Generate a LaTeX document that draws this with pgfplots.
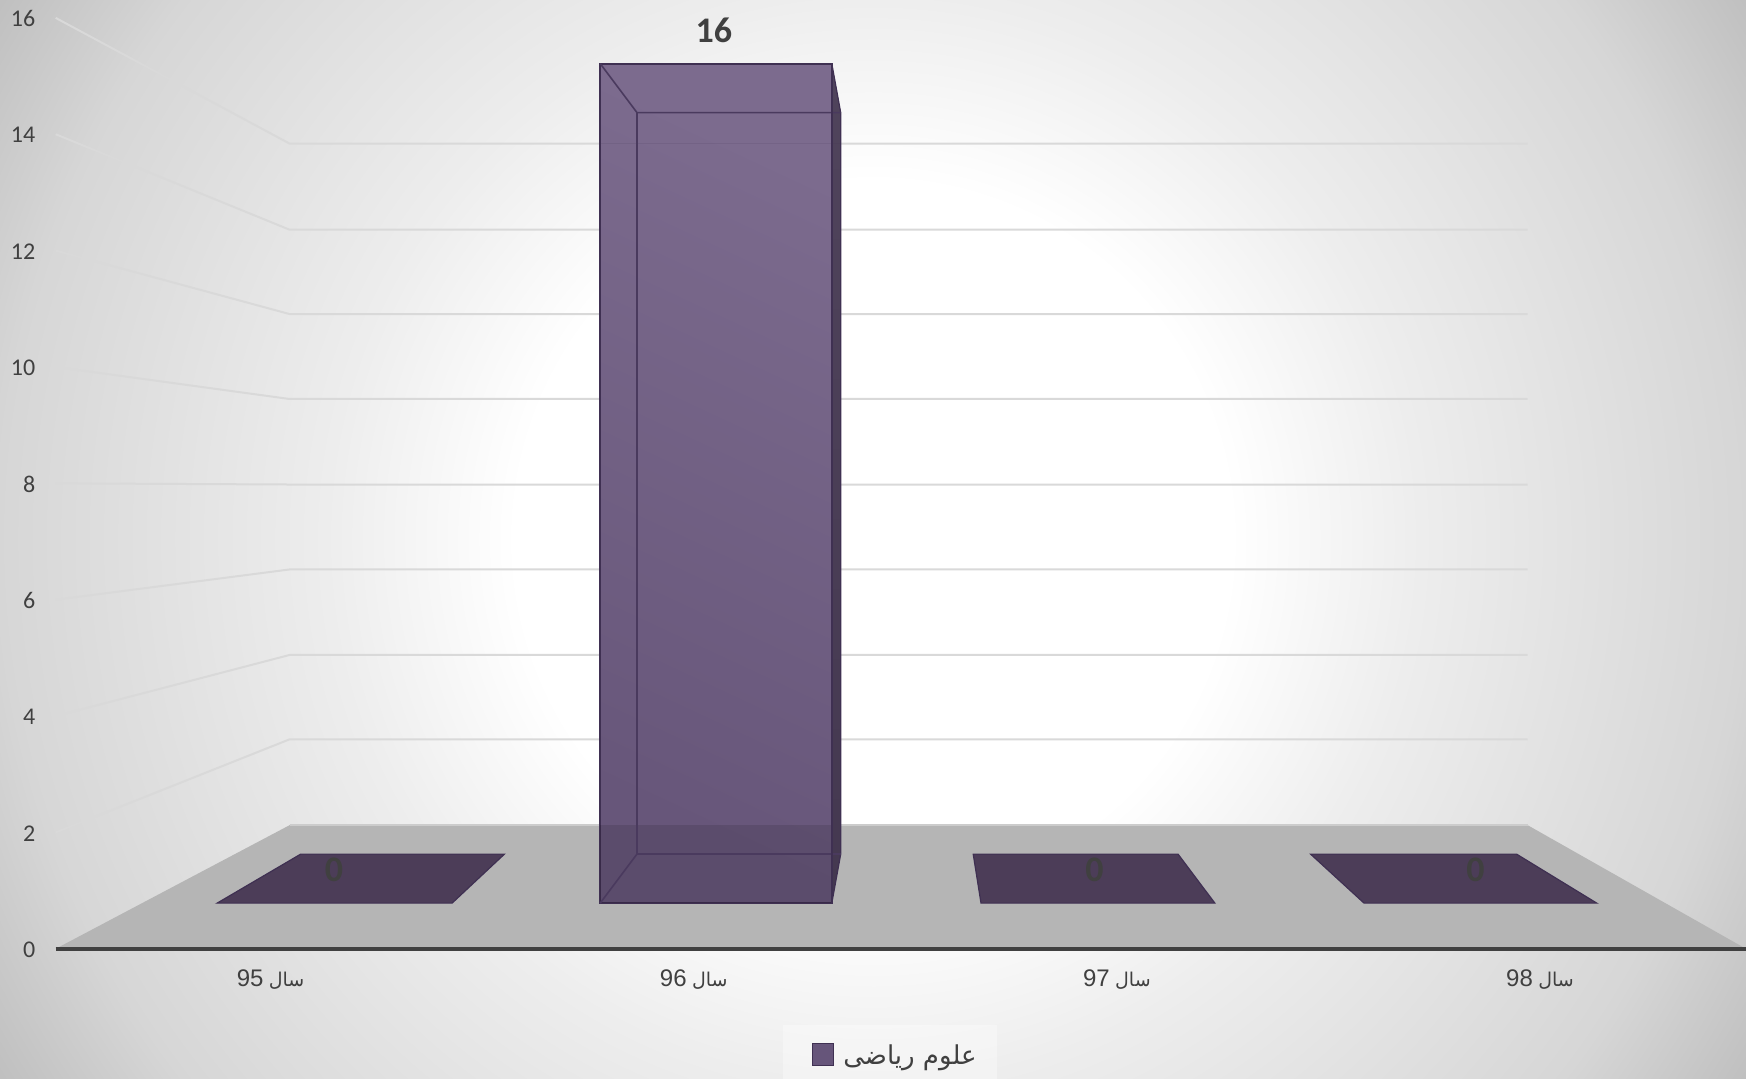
\documentclass[border=0pt]{standalone}
\usepackage{pgfplots}
\pgfplotsset{compat=1.18}
\usepackage{fontspec}
\setmainfont{Carlito}
\newfontfamily\arabicfont[Script=Arabic]{DejaVu Sans}
\newfontfamily\libsans{Liberation Sans}
\TeXXeTstate=1
\definecolor{gridc}{HTML}{D9D9D9}
\definecolor{floorc}{HTML}{B5B5B5}
\definecolor{edgec}{HTML}{3F3052}
\definecolor{inedge}{HTML}{4A3A5E}
\definecolor{panelc}{HTML}{4C3D58}
\definecolor{labc}{HTML}{404040}
\definecolor{sidetop}{HTML}{50445C}
\definecolor{sidebot}{HTML}{443850}
\definecolor{barhi}{HTML}{7C6B8E}
\definecolor{barlo}{HTML}{67567A}
\definecolor{barleg}{HTML}{66557A}
\pgfdeclareradialshading{bgshade}{\pgfpoint{0bp}{0bp}}{color(0bp)=(white); color(8.5bp)=(white); color(13bp)=(white!93!black); color(20.8bp)=(white!84!black); color(24.5bp)=(white!75!black); color(71bp)=(white!75!black)}
\newcommand\xl[1]{{\fontsize{12}{14}\selectfont\beginR{\arabicfont\fontsize{9.5}{14}\selectfont سال} \beginL{\libsans #1}\endL\endR}}
\pgfplotstableread{
x v ly
300 0 1.36
641 16 15.79
983 0 1.36
1325 0 1.36
}\labels
\begin{document}
\begin{tikzpicture}[x=1pt,y=1pt]
\useasboundingbox (0,0) rectangle (873,539);
\begin{scope}
\clip (0,0) rectangle (873,539);
\shade[shading=bgshade] (-88.5,-255.5) rectangle (961.5,794.5);
\end{scope}
\begin{axis}[
  at={(27.84pt,64.6pt)}, anchor=south west,
  scale only axis, width=845.15pt, height=465.45pt,
  xmin=50, xmax=1568, ymin=0, ymax=16,
  clip=false,
  axis line style={draw=none},
  major tick length=0pt,
  xtick={243,623,1003,1383},
  xticklabels={\xl{95},\xl{96},\xl{97},\xl{98}},
  ytick={0,2,...,16},
  /pgf/number format/assume math mode=true,
  yticklabel style={font=\fontsize{12}{13}\selectfont, text=labc, anchor=east, xshift=-6.7pt, yshift=-0.4pt},
  xticklabel style={text=labc, anchor=center, yshift=-15.2pt},
  legend style={at={(0.430,-0.0813)}, anchor=north west, draw=none, fill=white, fill opacity=0.35, text opacity=1, legend cell align=left, font=\fontsize{13}{15}\selectfont, inner xsep=8pt, inner ysep=8pt},
]
% back wall and side wall grid lines
\addplot[forget plot, gridc, line width=1pt] coordinates {(50,2) (260,3.60) (1372,3.60)};
\addplot[forget plot, gridc, line width=1pt] coordinates {(50,4) (260,5.05) (1372,5.05)};
\addplot[forget plot, gridc, line width=1pt] coordinates {(50,6) (260,6.52) (1372,6.52)};
\addplot[forget plot, gridc, line width=1pt] coordinates {(50,8) (260,7.98) (1372,7.98)};
\addplot[forget plot, gridc, line width=1pt] coordinates {(50,10) (260,9.45) (1372,9.45)};
\addplot[forget plot, gridc, line width=1pt] coordinates {(50,12) (260,10.91) (1372,10.91)};
\addplot[forget plot, gridc, line width=1pt] coordinates {(50,14) (260,12.36) (1372,12.36)};
\addplot[forget plot, gridc, line width=1pt] coordinates {(50,16) (260,13.84) (1372,13.84)};
% floor
\addplot[forget plot, fill=floorc, draw=none] coordinates {(50,0) (260,2.124) (1372,2.124) (1568,0)} --cycle;
\addplot[forget plot, white!80!black, line width=0.8pt] coordinates {(260,2.124) (1372,2.124)};
\addplot[forget plot, labc, line width=2pt] coordinates {(50,-0.01) (1568,-0.01)};
% zero-height bars
\addplot[forget plot, fill=panelc, draw=edgec, line width=0.6pt] coordinates {(195,0.785) (406,0.785) (453,1.627) (270,1.627)} --cycle;
\addplot[forget plot, fill=panelc, draw=edgec, line width=0.6pt] coordinates {(881,0.785) (1091,0.785) (1058,1.627) (874,1.627)} --cycle;
\addplot[forget plot, fill=panelc, draw=edgec, line width=0.6pt] coordinates {(1225,0.785) (1434,0.785) (1362,1.627) (1177,1.627)} --cycle;
% tall bar: right side
\addplot[forget plot, draw=edgec, line width=0.6pt, top color=sidetop, bottom color=sidebot] coordinates {(747,15.215) (755,14.373) (755,1.627) (747,0.785)} --cycle;
% tall bar: front
\addplot[forget plot, draw=edgec, line width=1pt, top color=barhi, bottom color=barlo, shading angle=-25] coordinates {(539,15.215) (747,15.215) (747,0.785) (539,0.785)} --cycle;
% darkening over the floor
\addplot[forget plot, fill=black, fill opacity=0.11, draw=none] coordinates {(539,0.785) (747,0.785) (747,2.124) (539,2.124)} --cycle;
% grid line through the bar
\addplot[forget plot, edgec, opacity=0.12, line width=0.8pt] coordinates {(539,13.84) (755,13.84)};
% inner edges
\addplot[forget plot, inedge, line width=0.8pt] coordinates {(539,15.215) (572,14.373) (755,14.373)};
\addplot[forget plot, inedge, line width=0.8pt] coordinates {(572,14.373) (572,1.627) (755,1.627)};
\addplot[forget plot, inedge, line width=0.8pt] coordinates {(572,1.627) (539,0.785)};
\addplot[forget plot, edgec, line width=0.8pt] coordinates {(747,15.215) (747,0.785)};
% value labels
\addplot[forget plot, draw=none, mark=none, nodes near coords, point meta=explicit,
  every node near coord/.append style={anchor=center, font=\bfseries\fontsize{18}{20}\selectfont, text=labc, inner sep=0pt}]
  table[x=x, y=ly, meta=v] {\labels};
\addlegendimage{legend image code/.code={\path[draw=none] (0pt,0pt) -- (20.2pt,0pt);\draw[fill=barleg, fill opacity=1, draw=edgec, draw opacity=1, line width=0.8pt] (6.7pt,-5.5pt) rectangle (17.2pt,5.5pt);}}
\addlegendentry{\raisebox{-1.6pt}{\color{labc}\arabicfont\beginR علوم ریاضی\endR}}
\end{axis}
\end{tikzpicture}
\end{document}
